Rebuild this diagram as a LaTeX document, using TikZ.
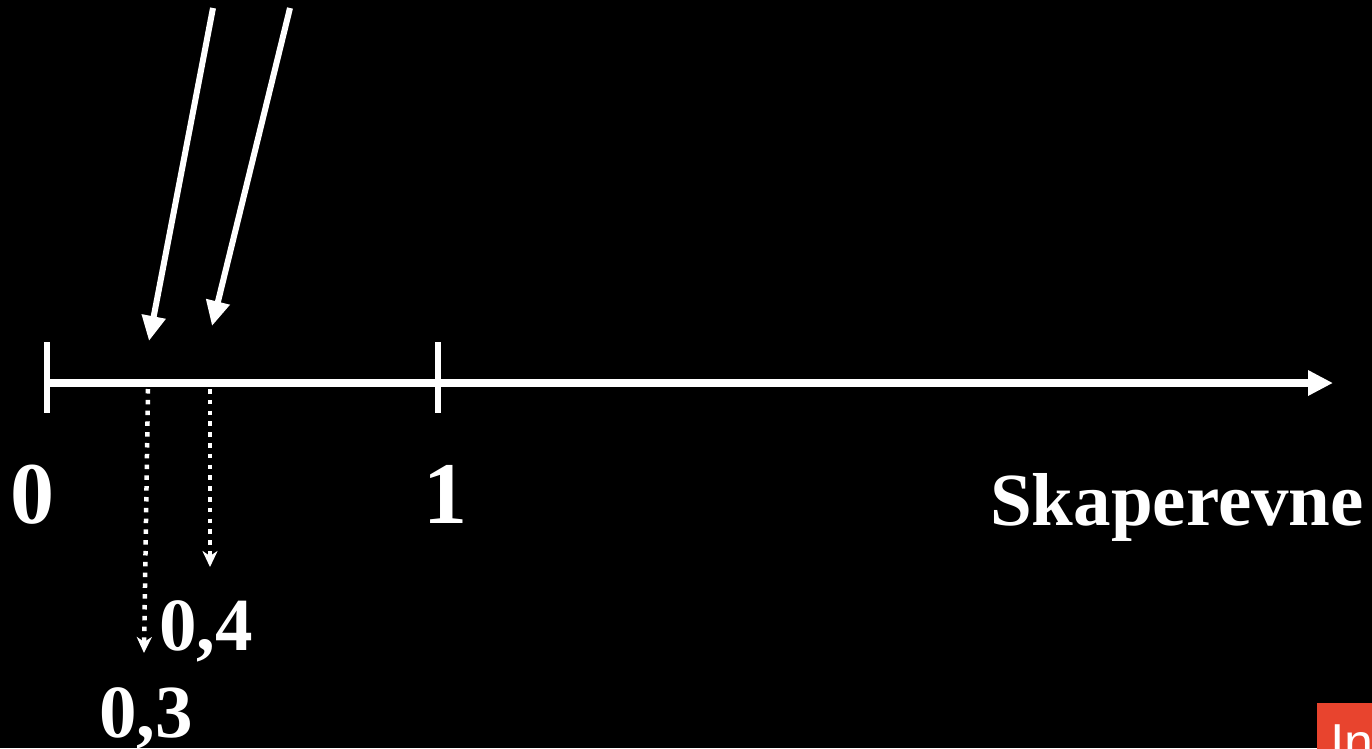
\documentclass[tikz,border=0pt]{standalone}
\usepackage{fontspec}
\setmainfont{Liberation Serif}
\setsansfont{Liberation Sans}
\usetikzlibrary{arrows.meta}
\definecolor{logored}{HTML}{E8442E}
\tikzset{
  axisline/.style={white,line width=7.5pt},
  ticksty/.style={white,line width=6.5pt},
  slant/.style={white,line width=6pt,-{Triangle[length=25pt,width=23pt]}},
  dotarrow/.style={white,line width=4.5pt,dash pattern=on 4.5pt off 6.3pt,-{Stealth[length=16pt,width=15pt,inset=5pt]}},
  bigtxt/.style={text=white,inner sep=0pt,font=\fontsize{88}{90}\selectfont\bfseries},
  midtxt/.style={text=white,inner sep=0pt,font=\fontsize{75}{78}\selectfont\bfseries},
}
\begin{document}
\begin{tikzpicture}[x=1pt,y=-1pt]
\fill[black] (0,0) rectangle (1372,748);
\useasboundingbox (0,0) rectangle (1372,748);
% axis
\coordinate (o) at (47,383);
\coordinate (one) at (438,383);
\coordinate (end) at (1333,383);
\draw[axisline,-{Triangle[length=25pt,width=24pt]}] (o) -- (end);
\coordinate (t0a) at (47,342); \coordinate (t0b) at (47,413);
\coordinate (t1a) at (438,342); \coordinate (t1b) at (438,413);
\draw[ticksty] (t0a) -- (t0b);
\draw[ticksty] (t1a) -- (t1b);
% slanted arrows
\coordinate (s1) at (213,8); \coordinate (e1) at (149,341);
\coordinate (s2) at (290,8); \coordinate (e2) at (212,326);
\draw[slant] (s1) -- (e1);
\draw[slant] (s2) -- (e2);
% dotted arrows
\coordinate (d1s) at (148,389); \coordinate (d1e) at (144,653);
\coordinate (d2s) at (210,389); \coordinate (d2e) at (210,567);
\draw[dotarrow] (d1s) -- (d1e);
\draw[dotarrow] (d2s) -- (d2e);
% labels
\node[bigtxt,anchor=base] (l0) at (32,523) {0};
\node[bigtxt,anchor=base] (l1) at (445,523) {1};
\node[midtxt,anchor=base west] (lab) at (990,525) {Skaperevne};
\node[midtxt,anchor=base west] (l04) at (159,650) {0,4};
\node[midtxt,anchor=base west] (l03) at (99,737) {0,3};
% logo fragment
\begin{scope}
\clip (0,0) rectangle (1372,748);
\fill[logored] (1317,703) rectangle (1380,760);
\node[text=white,inner sep=0pt,anchor=base west,font=\sffamily\fontsize{52}{52}\selectfont] (logo) at (1330,760) {In};
\end{scope}
\end{tikzpicture}
\end{document}
